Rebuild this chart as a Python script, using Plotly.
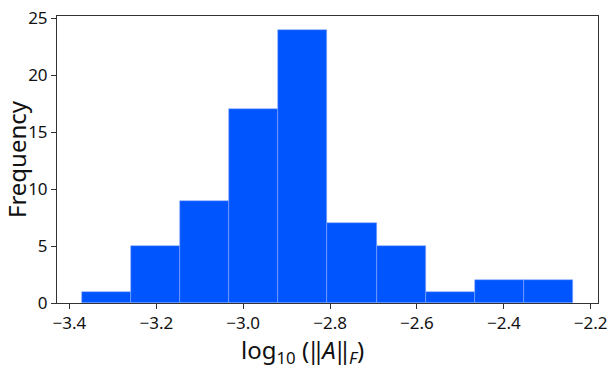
import numpy as np
import plotly.graph_objs as go

# histogram of log10(||A||_F)
bin_start = -3.372
bin_width = 0.1132
counts = [1, 5, 9, 17, 24, 7, 5, 1, 2, 2]
x_ticks = [-3.4, -3.2, -3.0, -2.8, -2.6, -2.4, -2.2]
y_ticks = [0, 5, 10, 15, 20, 25]

centers = bin_start + bin_width * (np.arange(len(counts)) + 0.5)
tick_text = [f"\u2212{abs(v):.1f}" for v in x_ticks]

fig = go.Figure()
fig.add_trace(go.Bar(
    x=centers, y=counts, width=bin_width,
    marker=dict(color="#0055ff", line=dict(color="rgba(140,170,255,0.9)", width=0.6)),
))

font = "Noto Sans, Open Sans, DejaVu Sans, sans-serif"
axis_common = dict(
    showline=True, linecolor="#333", linewidth=1, mirror=True,
    ticks="outside", ticklen=5, tickcolor="#333", showgrid=False, zeroline=False,
    tickfont=dict(size=17, color="#111", family=font), ticklabeloverflow="allow",
)
fig.update_xaxes(range=[-3.4286, -2.1832], tickvals=x_ticks, ticktext=tick_text, **axis_common)
fig.update_yaxes(
    range=[0, 25.2], tickvals=y_ticks,
    title=dict(text="Frequency", font=dict(size=24, color="#111", family=font), standoff=2),
    **axis_common,
)
# x title as annotation so it can sit where the reference has it
fig.add_annotation(
    text="log<sub>10</sub> (\u2016<i>A</i>\u2016<sub><i>F</i></sub>)",
    xref="paper", yref="paper", x=0.454, y=-0.098, xanchor="center", yanchor="top",
    showarrow=False, font=dict(size=24, color="#111", family=font),
)
fig.update_layout(
    width=614, height=386, showlegend=False, bargap=0,
    plot_bgcolor="white", paper_bgcolor="white",
    margin=dict(l=57, r=16, t=6, b=83),
)
fig.write_html("out.html", config={"displayModeBar": False},
               post_script="document.body.style.margin='0';")
